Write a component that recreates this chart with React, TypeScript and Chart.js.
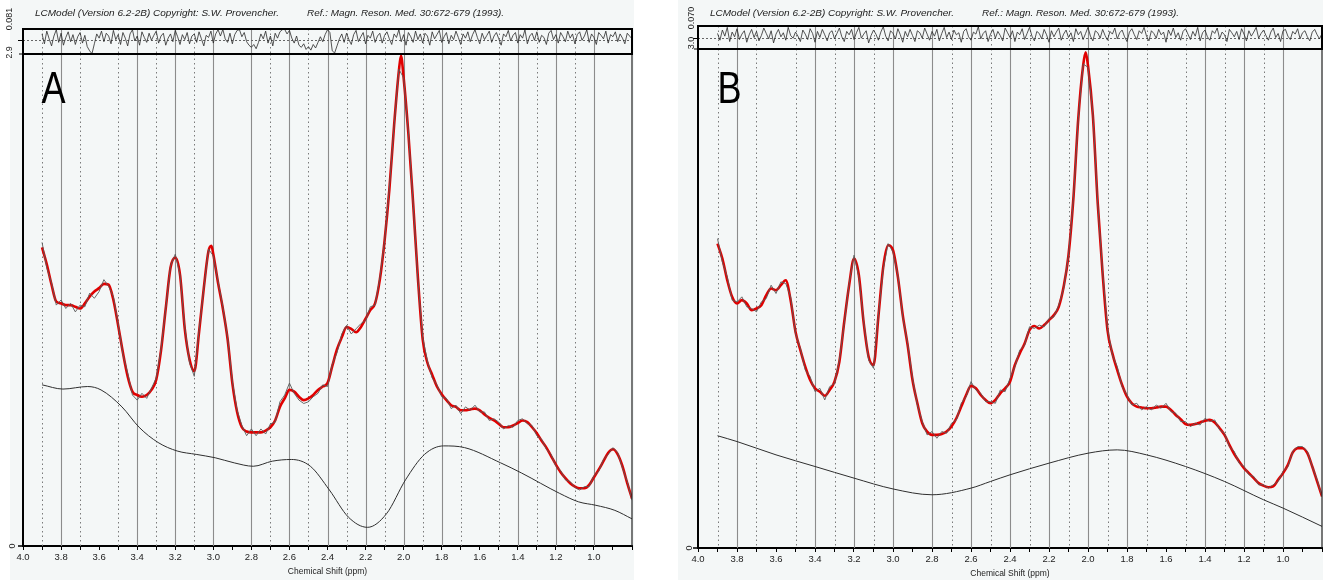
import React, { useEffect, useRef } from "react";
import { Chart, registerables } from "chart.js";
Chart.register(...registerables);

const FONT = "'Liberation Sans', Arial, Helvetica, sans-serif";

// Chemical-shift sampling grid (ppm) shared by data / fit
const ppmGrid = [
  3.9, 3.875, 3.85, 3.825, 3.8, 3.775, 3.75, 3.725,
  3.7, 3.675, 3.65, 3.625, 3.6, 3.575, 3.55, 3.525,
  3.5, 3.475, 3.45, 3.425, 3.4, 3.375, 3.35, 3.325,
  3.3, 3.275, 3.25, 3.225, 3.2, 3.175, 3.15, 3.125,
  3.1, 3.075, 3.05, 3.025, 3.0, 2.975, 2.95, 2.925,
  2.9, 2.875, 2.85, 2.825, 2.8, 2.775, 2.75, 2.725,
  2.7, 2.675, 2.65, 2.625, 2.6, 2.575, 2.55, 2.525,
  2.5, 2.475, 2.45, 2.425, 2.4, 2.375, 2.35, 2.325,
  2.3, 2.275, 2.25, 2.225, 2.2, 2.175, 2.15, 2.125,
  2.1, 2.075, 2.05, 2.025, 2.0, 1.975, 1.95, 1.925,
  1.9, 1.875, 1.85, 1.825, 1.8, 1.775, 1.75, 1.725,
  1.7, 1.675, 1.65, 1.625, 1.6, 1.575, 1.55, 1.525,
  1.5, 1.475, 1.45, 1.425, 1.4, 1.375, 1.35, 1.325,
  1.3, 1.275, 1.25, 1.225, 1.2, 1.175, 1.15, 1.125,
  1.1, 1.075, 1.05, 1.025, 1.0, 0.975, 0.95, 0.925,
  0.9, 0.875, 0.85, 0.825, 0.8,
];

// Residual samples: first sample at 3.9 ppm, one sample per 0.0125 ppm down to 0.8 ppm
const RES_START_PPM = 3.9;
const RES_STEP_PPM = 0.0125;

// ---------- Panel A ----------
const fitA = [
  1.76, 1.66, 1.54, 1.44, 1.43, 1.42, 1.42, 1.41,
  1.40, 1.43, 1.47, 1.50, 1.52, 1.545, 1.54, 1.45,
  1.30, 1.14, 1.00, 0.91, 0.89, 0.88, 0.89, 0.92,
  0.98, 1.15, 1.40, 1.64, 1.70, 1.60, 1.28, 1.10,
  1.03, 1.26, 1.52, 1.74, 1.72, 1.55, 1.40, 1.22,
  0.96, 0.79, 0.70, 0.675, 0.67, 0.67, 0.67, 0.68,
  0.70, 0.74, 0.82, 0.87, 0.92, 0.91, 0.88, 0.86,
  0.87, 0.89, 0.92, 0.94, 0.96, 1.06, 1.16, 1.23,
  1.29, 1.28, 1.26, 1.29, 1.34, 1.39, 1.43, 1.57,
  1.80, 2.10, 2.48, 2.80, 2.76, 2.43, 2.02, 1.58,
  1.22, 1.08, 1.01, 0.94, 0.895, 0.86, 0.83, 0.82,
  0.80, 0.80, 0.805, 0.81, 0.80, 0.775, 0.755, 0.74,
  0.72, 0.70, 0.70, 0.71, 0.725, 0.74, 0.73, 0.70,
  0.665, 0.62, 0.58, 0.53, 0.48, 0.435, 0.40, 0.37,
  0.35, 0.34, 0.34, 0.36, 0.405, 0.45, 0.50, 0.55,
  0.57, 0.54, 0.47, 0.37, 0.28,
];
const peakPpmA = [3.01, 2.014];
const peakValA = [1.77, 2.89];

const dataA = [
  1.79, 1.64, 1.55, 1.42, 1.45, 1.40, 1.43, 1.38,
  1.42, 1.41, 1.49, 1.46, 1.50, 1.57, 1.53, 1.47,
  1.31, 1.13, 1.02, 0.89, 0.86, 0.90, 0.87, 0.93,
  0.99, 1.16, 1.40, 1.65, 1.72, 1.60, 1.29, 1.08,
  1.00, 1.27, 1.52, 1.75, 1.71, 1.56, 1.41, 1.23,
  0.97, 0.80, 0.71, 0.65, 0.69, 0.65, 0.69, 0.66,
  0.72, 0.73, 0.85, 0.89, 0.96, 0.90, 0.86, 0.84,
  0.85, 0.88, 0.90, 0.95, 0.94, 1.07, 1.14, 1.25,
  1.30, 1.25, 1.28, 1.31, 1.33, 1.41, 1.42, 1.58,
  1.80, 2.11, 2.48, 2.81, 2.76, 2.44, 2.02, 1.57,
  1.23, 1.09, 0.99, 0.95, 0.88, 0.87, 0.81, 0.83,
  0.78, 0.82, 0.80, 0.83, 0.79, 0.79, 0.74, 0.75,
  0.73, 0.69, 0.71, 0.70, 0.74, 0.75, 0.72, 0.71,
  0.65, 0.63, 0.57, 0.54, 0.47, 0.445, 0.39, 0.38,
  0.345, 0.33, 0.35, 0.35, 0.415, 0.44, 0.51, 0.54,
  0.58, 0.55, 0.46, 0.38, 0.27,
];

const residA = [
  0.018, -0.010, 0.026, 0.004, -0.016, 0.012, 0.030, -0.006, 0.020, -0.014, 0.008, 0.024, -0.004, 0.016, -0.012, 0.010,
  0.022, -0.008, 0.014, -0.018, -0.030, -0.038, -0.010, 0.018, 0.006, 0.026, -0.004, 0.020, 0.012, -0.010, 0.028, 0.002,
  0.016, -0.012, 0.022, 0.006, -0.016, 0.018, 0.030, -0.002, 0.012, -0.014, 0.024, 0.008, -0.006, 0.020, 0.000, 0.014,
  0.026, -0.008, 0.012, 0.020, -0.014, 0.006, 0.018, -0.004, 0.028, 0.010, -0.012, 0.016, 0.002, 0.022, -0.010, 0.012,
  0.018, -0.006, 0.024, 0.004, -0.016, 0.014, 0.008, 0.026, -0.008, 0.018, 0.030, 0.012, 0.031, 0.004, -0.006, 0.020,
  -0.010, 0.016, 0.028, 0.030, 0.010, 0.022, -0.004, -0.014, -0.020, -0.012, -0.024, -0.006, 0.018, 0.004, 0.026, -0.008,
  0.012, -0.016, 0.020, 0.006, 0.024, 0.030, 0.031, 0.018, 0.028, 0.006, -0.008, 0.012, -0.014, -0.020, -0.010, -0.026,
  -0.018, -0.028, -0.012, -0.022, -0.006, 0.010, -0.004, 0.016, 0.030, 0.022, -0.030, -0.036, -0.016, 0.004, 0.018, -0.006,
  0.020, 0.002, -0.012, 0.016, 0.028, -0.004, 0.010, 0.022, -0.010, 0.014, 0.006, 0.026, -0.006, 0.012, 0.020, -0.008,
  0.014, 0.024, 0.004, -0.012, 0.018, 0.008, 0.030, -0.004, 0.016, -0.014, 0.022, 0.010, -0.006, 0.026, 0.002, 0.018,
  -0.008, 0.020, 0.012, -0.014, 0.024, 0.004, 0.016, 0.028, -0.006, 0.010, 0.022, -0.010, 0.014, 0.002, 0.026, 0.008,
  -0.012, 0.018, 0.006, 0.024, -0.004, 0.016, 0.030, 0.008, -0.010, 0.020, 0.002, 0.014, 0.026, -0.006, 0.012, 0.022,
  0.004, -0.014, 0.018, 0.010, 0.028, -0.002, 0.014, 0.022, -0.008, 0.016, 0.006, 0.030, -0.010, 0.012, 0.020, 0.000,
  0.024, -0.006, 0.014, 0.008, -0.012, 0.020, 0.028, 0.002, 0.016, -0.008, 0.022, 0.010, -0.004, 0.026, 0.006, 0.018,
  -0.010, 0.016, 0.024, 0.000, 0.012, 0.030, -0.006, 0.018, 0.008, -0.012, 0.022, 0.014, 0.004, 0.026, -0.008, 0.016,
  0.010, 0.024, -0.004, 0.018, 0.006, -0.010, 0.020, 0.012, 0.004,
];

const basePpmA = [3.9, 3.79, 3.66, 3.59, 3.48, 3.39, 3.29, 3.19, 3.09, 2.99, 2.89, 2.79, 2.69, 2.59, 2.49, 2.39, 2.29, 2.19, 2.09, 1.99, 1.89, 1.79, 1.68, 1.49, 1.38, 1.18, 1.08, 0.99, 0.89, 0.8];
const baseA = [0.95, 0.925, 0.94, 0.92, 0.82, 0.70, 0.61, 0.56, 0.54, 0.52, 0.49, 0.47, 0.50, 0.51, 0.47, 0.33, 0.17, 0.11, 0.19, 0.39, 0.54, 0.59, 0.58, 0.49, 0.43, 0.31, 0.26, 0.24, 0.21, 0.16];

// ---------- Panel B ----------
const fitB = [
  1.83, 1.74, 1.61, 1.51, 1.47, 1.49, 1.47, 1.43,
  1.44, 1.46, 1.52, 1.56, 1.55, 1.58, 1.61, 1.49,
  1.30, 1.19, 1.09, 1.01, 0.96, 0.94, 0.915, 0.95,
  1.00, 1.12, 1.36, 1.58, 1.74, 1.64, 1.35, 1.15,
  1.10, 1.39, 1.69, 1.82, 1.79, 1.63, 1.40, 1.22,
  1.01, 0.87, 0.75, 0.70, 0.68, 0.68, 0.685, 0.70,
  0.73, 0.78, 0.85, 0.92, 0.975, 0.96, 0.92, 0.89,
  0.87, 0.89, 0.93, 0.96, 1.00, 1.10, 1.17, 1.23,
  1.31, 1.335, 1.32, 1.34, 1.37, 1.40, 1.45, 1.57,
  1.76, 2.10, 2.58, 2.90, 2.90, 2.60, 2.07, 1.65,
  1.31, 1.17, 1.07, 0.98, 0.91, 0.87, 0.85, 0.845,
  0.84, 0.84, 0.845, 0.85, 0.85, 0.83, 0.80, 0.775,
  0.745, 0.74, 0.745, 0.755, 0.765, 0.77, 0.755, 0.72,
  0.68, 0.62, 0.565, 0.52, 0.48, 0.45, 0.42, 0.39,
  0.375, 0.365, 0.37, 0.41, 0.45, 0.50, 0.575, 0.60,
  0.60, 0.57, 0.49, 0.40, 0.31,
];
const peakPpmB = [2.012];
const peakValB = [2.98];

const dataB = [
  1.86, 1.72, 1.63, 1.49, 1.48, 1.51, 1.45, 1.44,
  1.42, 1.48, 1.50, 1.58, 1.53, 1.60, 1.59, 1.51,
  1.29, 1.20, 1.07, 1.03, 0.94, 0.96, 0.89, 0.97,
  0.99, 1.13, 1.35, 1.59, 1.76, 1.63, 1.36, 1.13,
  1.08, 1.40, 1.68, 1.83, 1.78, 1.64, 1.39, 1.23,
  1.02, 0.86, 0.76, 0.68, 0.70, 0.66, 0.70, 0.69,
  0.75, 0.77, 0.87, 0.91, 1.00, 0.95, 0.93, 0.88,
  0.88, 0.87, 0.95, 0.94, 1.02, 1.09, 1.19, 1.22,
  1.33, 1.32, 1.34, 1.33, 1.38, 1.39, 1.46, 1.56,
  1.76, 2.10, 2.58, 2.91, 2.89, 2.61, 2.07, 1.66,
  1.32, 1.16, 1.09, 0.97, 0.92, 0.86, 0.87, 0.83,
  0.85, 0.83, 0.86, 0.84, 0.87, 0.82, 0.81, 0.76,
  0.76, 0.73, 0.75, 0.74, 0.78, 0.76, 0.77, 0.71,
  0.69, 0.61, 0.58, 0.51, 0.49, 0.44, 0.43, 0.38,
  0.38, 0.36, 0.38, 0.40, 0.46, 0.49, 0.58, 0.61,
  0.61, 0.58, 0.49, 0.41, 0.31,
];

const residB = [
  0.012, -0.008, 0.022, 0.004, 0.030, -0.012, 0.016, 0.002, 0.026, -0.006, 0.010, 0.020, -0.014, 0.008, 0.024, 0.000,
  0.018, -0.010, 0.006, 0.028, 0.012, -0.004, 0.020, -0.016, 0.010, 0.024, 0.002, 0.014, -0.008, 0.030, 0.006, -0.002,
  0.016, 0.004, -0.012, 0.022, 0.010, -0.006, 0.026, 0.012, -0.014, 0.018, 0.000, 0.024, 0.008, -0.010, 0.014, 0.020,
  -0.004, 0.012, 0.028, 0.002, -0.012, 0.018, 0.008, 0.024, -0.006, 0.014, 0.030, -0.002, 0.010, 0.020, -0.016, 0.006,
  0.022, 0.010, -0.008, 0.016, 0.032, 0.004, -0.010, 0.020, 0.012, -0.004, 0.026, 0.008, -0.014, 0.018, 0.002, 0.024,
  0.006, -0.012, 0.020, 0.014, -0.002, 0.028, 0.010, -0.008, 0.018, 0.004, 0.024, -0.010, 0.012, 0.030, 0.000, 0.016,
  -0.006, 0.022, 0.008, 0.014, -0.014, 0.018, 0.026, 0.002, -0.008, 0.016, 0.010, 0.032, -0.004, 0.012, 0.020, -0.012,
  0.010, 0.024, -0.002, 0.018, 0.006, -0.010, 0.028, 0.014, 0.000, 0.020, -0.012, 0.016, 0.008, 0.026, -0.006, 0.012,
  0.030, 0.004, -0.010, 0.018, 0.012, -0.004, 0.024, 0.008, -0.014, 0.020, 0.002, 0.016, 0.028, -0.008, 0.010, 0.022,
  0.000, 0.014, -0.012, 0.026, 0.008, 0.018, -0.006, 0.012, 0.030, 0.004, -0.010, 0.020, 0.014, -0.002, 0.024, 0.006,
  -0.008, 0.018, 0.010, 0.028, -0.004, 0.014, 0.022, 0.002, -0.012, 0.016, 0.026, 0.008, -0.006, 0.020, 0.012, 0.030,
  0.004, -0.010, 0.020, 0.012, -0.002, 0.024, 0.008, 0.016, -0.014, 0.022, 0.006, 0.028, 0.000, 0.014, -0.008, 0.018,
  0.026, 0.010, -0.006, 0.018, 0.004, 0.030, -0.010, 0.014, 0.022, 0.002, -0.008, 0.020, 0.012, 0.028, -0.004, 0.016,
  0.008, -0.012, 0.024, 0.014, 0.002, 0.018, -0.006, 0.026, 0.010, -0.010, 0.020, 0.004, 0.016, 0.030, -0.002, 0.012,
  0.022, 0.006, -0.008, 0.016, 0.028, 0.000, 0.012, -0.012, 0.020, 0.024, 0.004, -0.006, 0.018, 0.010, 0.026, -0.004,
  0.014, 0.020, 0.002, -0.010, 0.016, 0.024, 0.008, -0.004, 0.012,
];

const basePpmB = [3.9, 3.8, 3.6, 3.4, 3.2, 3.0, 2.8, 2.6, 2.5, 2.4, 2.2, 2.0, 1.85, 1.7, 1.5, 1.3, 1.1, 1.0, 0.8];
const baseB = [0.675, 0.64, 0.56, 0.49, 0.42, 0.355, 0.32, 0.36, 0.40, 0.44, 0.51, 0.57, 0.59, 0.56, 0.49, 0.40, 0.29, 0.24, 0.13];

// ---------- Axis ticks / grid positions ----------
const xTickValues = [0.8, 0.9, 1.0, 1.1, 1.2, 1.3, 1.4, 1.5, 1.6, 1.7, 1.8, 1.9, 2.0, 2.1, 2.2, 2.3, 2.4, 2.5, 2.6, 2.7, 2.8, 2.9, 3.0, 3.1, 3.2, 3.3, 3.4, 3.5, 3.6, 3.7, 3.8, 3.9, 4.0];
const xTickLabels = ["1.0", "1.2", "1.4", "1.6", "1.8", "2.0", "2.2", "2.4", "2.6", "2.8", "3.0", "3.2", "3.4", "3.6", "3.8", "4.0"];
const solidGridPpm = [3.8, 3.4, 3.2, 3.0, 2.8, 2.6, 2.4, 2.2, 2.0, 1.8, 1.4, 1.2, 1.0];
const dottedGridPpm = [3.9, 3.7, 3.5, 3.3, 3.1, 2.7, 2.5, 2.3, 2.1, 1.9, 1.7, 1.5, 1.3, 1.1];

const HEADER1 = "LCModel (Version 6.2-2B) Copyright: S.W. Provencher.";
const HEADER2 = "Ref.: Magn. Reson. Med. 30:672-679 (1993).";

const panels = [
  {
    letter: "A", left: 0, width: 660, padL: 23, padR: 28,
    resTop: 29, resBottom: 54, resMin: -0.039, resMax: 0.032,
    mainTop: 50, mainH: 532, axisH: 36, titlePad: 5, yMax: 2.9,
    resLabel: "0.081", topLabel: "2.9", labelX: 10, resLabelY: 19, topLabelY: 52.5, zeroX: 13,
    h1X: 35, h1W: 244, h2X: 307, h2W: 197, letterX: 41.5, bgLeft: 10, bgWidth: 624,
    fit: fitA, data: dataA, resid: residA, peakPpm: peakPpmA, peakVal: peakValA, basePpm: basePpmA, base: baseA,
  },
  {
    letter: "B", left: 660, width: 663, padL: 38, padR: 1,
    resTop: 26, resBottom: 49, resMin: -0.034, resMax: 0.034,
    mainTop: 45, mainH: 537, axisH: 34, titlePad: 3, yMax: 3.0,
    resLabel: "0.070", topLabel: "3.0", labelX: 692, resLabelY: 18, topLabelY: 43, zeroX: 690,
    h1X: 710, h1W: 244, h2X: 982, h2W: 197, letterX: 717.5, bgLeft: 678, bgWidth: 645,
    fit: fitB, data: dataB, resid: residB, peakPpm: peakPpmB, peakVal: peakValB, basePpm: basePpmB, base: baseB,
  },
];

function drawVerticalGrid(chart: any, toPx: (ppm: number) => number) {
  const { ctx, chartArea } = chart;
  ctx.save();
  ctx.lineWidth = 1.1;
  ctx.strokeStyle = "#8c8c8c";
  ctx.setLineDash([]);
  solidGridPpm.forEach((v) => {
    const px = Math.round(toPx(v)) + 0.5;
    ctx.beginPath();
    ctx.moveTo(px, chartArea.top);
    ctx.lineTo(px, chartArea.bottom);
    ctx.stroke();
  });
  ctx.lineWidth = 1;
  ctx.strokeStyle = "#7a7a7a";
  ctx.setLineDash([1.5, 3]);
  dottedGridPpm.forEach((v) => {
    const px = Math.round(toPx(v)) + 0.5;
    ctx.beginPath();
    ctx.moveTo(px, chartArea.top);
    ctx.lineTo(px, chartArea.bottom);
    ctx.stroke();
  });
  ctx.restore();
}

function rotText(ctx: CanvasRenderingContext2D, text: string, x: number, y: number, size: number) {
  ctx.save();
  ctx.translate(x, y);
  ctx.rotate(-Math.PI / 2);
  ctx.font = `${size}px ${FONT}`;
  ctx.fillStyle = "#222";
  ctx.textAlign = "center";
  ctx.textBaseline = "middle";
  ctx.fillText(text, 0, 0);
  ctx.restore();
}

function fitText(ctx: CanvasRenderingContext2D, text: string, x: number, y: number, w: number, font: string) {
  ctx.save();
  ctx.font = font;
  const m = ctx.measureText(text).width;
  ctx.translate(x, y);
  ctx.scale(w / m, 1);
  ctx.fillStyle = "#222";
  ctx.textAlign = "left";
  ctx.textBaseline = "middle";
  ctx.fillText(text, 0, 0);
  ctx.restore();
}

function makeResidual(canvas: HTMLCanvasElement, p: any) {
  // x in sample-index units; index 0 is at RES_START_PPM
  const pts = p.resid.map((r: number, i: number) => ({ x: i, y: r }));
  const idxMin = (RES_START_PPM - 4.0) / RES_STEP_PPM;
  const idxMax = (RES_START_PPM - 0.8) / RES_STEP_PPM;
  const plugin = {
    id: "resFrame" + p.letter,
    beforeDatasetsDraw(chart: any) {
      const xs = chart.scales.x;
      drawVerticalGrid(chart, (ppm) => xs.getPixelForValue((RES_START_PPM - ppm) / RES_STEP_PPM));
      const { ctx, chartArea } = chart;
      const y0 = chart.scales.y.getPixelForValue(0);
      ctx.save();
      ctx.strokeStyle = "#666";
      ctx.lineWidth = 1;
      ctx.setLineDash([2, 2]);
      ctx.beginPath();
      ctx.moveTo(chartArea.left, Math.round(y0) + 0.5);
      ctx.lineTo(chartArea.right, Math.round(y0) + 0.5);
      ctx.stroke();
      ctx.restore();
    },
    afterDraw(chart: any) {
      const { ctx, chartArea } = chart;
      const y0 = chart.scales.y.getPixelForValue(0);
      ctx.save();
      ctx.strokeStyle = "#000";
      ctx.lineWidth = 2;
      ctx.strokeRect(chartArea.left, chartArea.top, chartArea.right - chartArea.left, chartArea.bottom - chartArea.top);
      ctx.lineWidth = 1;
      ctx.beginPath();
      ctx.moveTo(chartArea.left - 5, Math.round(y0) + 0.5);
      ctx.lineTo(chartArea.left, Math.round(y0) + 0.5);
      ctx.moveTo(chartArea.left - 4, chartArea.bottom);
      ctx.lineTo(chartArea.left, chartArea.bottom);
      ctx.stroke();
      ctx.restore();
      const italic = `italic 9.5px ${FONT}`;
      fitText(ctx, HEADER1, p.h1X - p.left, 13, p.h1W, italic);
      fitText(ctx, HEADER2, p.h2X - p.left, 13, p.h2W, italic);
      rotText(ctx, p.resLabel, p.labelX - p.left, p.resLabelY, 9);
      rotText(ctx, p.topLabel, p.labelX - p.left, p.topLabelY, 9);
    },
  };
  return new Chart(canvas, {
    type: "line",
    data: {
      datasets: [
        { label: "Residual", data: pts, borderColor: "#2a2a2a", borderWidth: 0.8, pointRadius: 0, tension: 0 },
      ],
    },
    options: {
      animation: false,
      responsive: false,
      devicePixelRatio: 1,
      events: [],
      layout: { padding: { left: p.padL, right: p.padR, top: p.resTop, bottom: 4 } },
      plugins: { legend: { display: false }, tooltip: { enabled: false } },
      scales: {
        x: { type: "linear", min: idxMin, max: idxMax, display: false },
        y: { min: p.resMin, max: p.resMax, display: false },
      },
    } as any,
    plugins: [plugin],
  });
}

function makeMain(canvas: HTMLCanvasElement, p: any) {
  const fitPts = ppmGrid
    .map((x, i) => ({ x, y: p.fit[i] }))
    .concat(p.peakPpm.map((x: number, i: number) => ({ x, y: p.peakVal[i] })))
    .sort((a: any, b: any) => b.x - a.x);
  const dataPts = ppmGrid.map((x, i) => ({ x, y: p.data[i] }));
  const basePts = p.basePpm.map((x: number, i: number) => ({ x, y: p.base[i] }));

  const plugin = {
    id: "mainFrame" + p.letter,
    beforeDatasetsDraw(chart: any) {
      const xs = chart.scales.x;
      drawVerticalGrid(chart, (ppm) => xs.getPixelForValue(ppm));
    },
    afterDraw(chart: any) {
      const { ctx, chartArea } = chart;
      ctx.save();
      ctx.strokeStyle = "#000";
      ctx.lineWidth = 2;
      ctx.beginPath();
      ctx.moveTo(chartArea.left, chartArea.bottom);
      ctx.lineTo(chartArea.left, chartArea.top);
      ctx.lineTo(chartArea.right, chartArea.top);
      ctx.stroke();
      ctx.lineWidth = 1.2;
      ctx.strokeStyle = "#222";
      ctx.beginPath();
      ctx.moveTo(chartArea.right, chartArea.top);
      ctx.lineTo(chartArea.right, chartArea.bottom);
      ctx.stroke();
      ctx.lineWidth = 1.5;
      ctx.strokeStyle = "#000";
      ctx.beginPath();
      ctx.moveTo(chartArea.left - 5, chartArea.bottom);
      ctx.lineTo(chartArea.left, chartArea.bottom);
      ctx.stroke();
      ctx.restore();
      rotText(ctx, "0", p.zeroX - p.left, chartArea.bottom, 9);
      ctx.save();
      ctx.font = `44px ${FONT}`;
      ctx.fillStyle = "#000";
      ctx.textAlign = "left";
      ctx.textBaseline = "alphabetic";
      ctx.translate(p.letterX - p.left, 103 - p.mainTop);
      ctx.scale(0.82, 1);
      ctx.fillText(p.letter, 0, 0);
      ctx.restore();
    },
  };

  return new Chart(canvas, {
    type: "line",
    data: {
      datasets: [
        { label: "Baseline", data: basePts, borderColor: "#2e2e2e", borderWidth: 1, pointRadius: 0, cubicInterpolationMode: "monotone" },
        { label: "Data", data: dataPts, borderColor: "#5a5a5a", borderWidth: 0.9, pointRadius: 0, tension: 0 },
        { label: "Fit", data: fitPts, borderColor: "#e00000", borderWidth: 2.6, pointRadius: 0, cubicInterpolationMode: "monotone" },
      ],
    },
    options: {
      animation: false,
      responsive: false,
      devicePixelRatio: 1,
      events: [],
      layout: { padding: { left: p.padL, right: p.padR, top: 4, bottom: 0 } },
      plugins: { legend: { display: false }, tooltip: { enabled: false } },
      scales: {
        x: {
          type: "linear",
          reverse: true,
          min: 0.8,
          max: 4.0,
          afterBuildTicks: (s: any) => {
            s.ticks = xTickValues.map((v) => ({ value: v }));
          },
          afterFit: (s: any) => {
            s.height = p.axisH;
          },
          ticks: {
            autoSkip: false,
            maxRotation: 0,
            minRotation: 0,
            padding: 2,
            color: "#222",
            font: { family: FONT, size: 9.5 },
            callback: (v: any) => {
              const s = Number(v).toFixed(1);
              return xTickLabels.includes(s) ? s : "";
            },
          },
          grid: { drawOnChartArea: false, drawTicks: true, tickLength: 4, tickColor: "#000", tickWidth: 1 },
          border: { display: true, color: "#000", width: 2 },
          title: {
            display: true,
            text: "Chemical Shift (ppm)",
            color: "#222",
            font: { family: FONT, size: 8.5 },
            padding: { top: 0, bottom: p.titlePad },
          },
        },
        y: { display: false, min: 0, max: p.yMax },
      },
    } as any,
    plugins: [plugin],
  });
}

function Panel({ p }: { p: any }) {
  const resRef = useRef<HTMLCanvasElement>(null);
  const mainRef = useRef<HTMLCanvasElement>(null);
  useEffect(() => {
    const m = makeMain(mainRef.current!, p);
    const r = makeResidual(resRef.current!, p);
    return () => {
      m.destroy();
      r.destroy();
    };
  }, [p]);
  const resH = p.resBottom + 4;
  return (
    <>
      <div style={{ position: "absolute", left: p.bgLeft, top: 0, width: p.bgWidth, height: 580, background: "#f4f7f7" }} />
      <canvas
        ref={mainRef}
        width={p.width}
        height={p.mainH}
        style={{ position: "absolute", left: p.left, top: p.mainTop, width: p.width, height: p.mainH }}
      />
      <canvas
        ref={resRef}
        width={p.width}
        height={resH}
        style={{ position: "absolute", left: p.left, top: 0, width: p.width, height: resH }}
      />
    </>
  );
}

export default function App() {
  return (
    <div style={{ position: "fixed", left: 0, top: 0, width: 1323, height: 582, background: "#fff", overflow: "hidden" }}>
      {panels.map((p) => (
        <Panel key={p.letter} p={p} />
      ))}
    </div>
  );
}
